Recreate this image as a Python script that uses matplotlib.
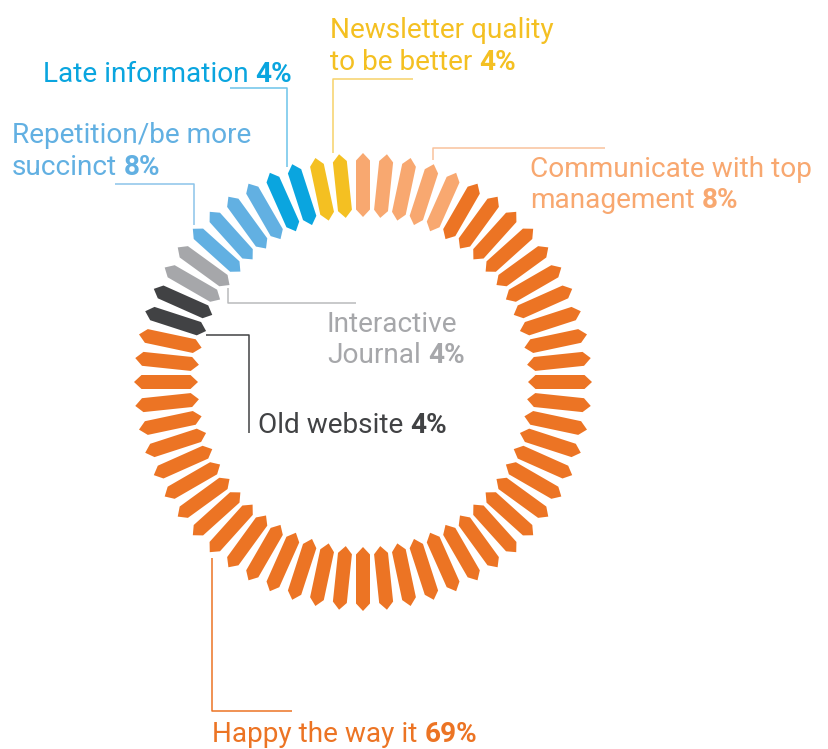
import numpy as np
import matplotlib
matplotlib.use('Agg')
import matplotlib.pyplot as plt
from matplotlib.patches import Polygon

plt.rcParams['font.family'] = ['Roboto', 'DejaVu Sans']

categories = ['Communicate with top management', 'Newsletter quality to be better',
              'Late information', 'Repetition/be more succinct', 'Interactive Journal',
              'Old website', 'Happy the way it']
percents = ['8%', '4%', '4%', '8%', '4%', '4%', '69%']
segments = [5, 2, 2, 4, 2, 2, 43]
colors = ['#F8A870', '#F4C022', '#0AA5DF', '#62B0E2', '#A6A7AA', '#414244', '#EC7424']

n_total = sum(segments)
start_deg = 66
step = 360 / n_total

fig = plt.figure(figsize=(8.29, 7.49), dpi=100)
ax = fig.add_axes([0, 0, 1, 1])
ax.set_xlim(0, 829)
ax.set_ylim(749, 0)
ax.set_aspect('equal')
ax.axis('off')

cx, cy = 363, 382
r_in, r_out = 165, 229
half_w, tip = 7, 7.5

k = 0
for cnt, col in zip(segments, colors):
    for _ in range(cnt):
        th = np.radians(start_deg + k * step)
        u = np.array([np.cos(th), -np.sin(th)])
        v = np.array([np.sin(th), np.cos(th)])
        c = np.array([cx, cy])
        pts = [c + r_in * u,
               c + (r_in + tip) * u + half_w * v,
               c + (r_out - tip) * u + half_w * v,
               c + r_out * u,
               c + (r_out - tip) * u - half_w * v,
               c + (r_in + tip) * u - half_w * v]
        ax.add_patch(Polygon(pts, closed=True, facecolor=col, edgecolor='none'))
        k += 1

fs = 20.2
renderer = fig.canvas.get_renderer()


def label(x, y, lines, bold, color):
    # all lines normal weight, bold percentage appended to last line
    for i, ln in enumerate(lines):
        t = ax.text(x, y[i], ln, fontsize=fs, color=color, va='baseline', ha='left')
    bb = t.get_window_extent(renderer=renderer)
    x_end = ax.transData.inverted().transform((bb.x1, bb.y0))[0]
    ax.text(x_end + 7, y[-1], bold, fontsize=fs, color=color, va='baseline',
            ha='left', fontweight='bold')


def leader(xs, ys, color):
    ax.plot(xs, ys, color=color, lw=1.1, solid_capstyle='butt')


# labels
label(43, [82], ['Late information'], percents[2], colors[2])
leader([230, 287, 287], [88, 88, 167], '#6CC3EA')

label(12, [143, 175], ['Repetition/be more', 'succinct'], percents[3], colors[3])
leader([115, 194, 194], [184, 184, 225], '#8CC4EA')

label(330, [38, 70], ['Newsletter quality', 'to be better'], percents[1], colors[1])
leader([413, 333, 333], [79, 79, 153], '#F7D26A')

label(530, [177, 208], ['Communicate with top', 'management'], percents[0], colors[0])
leader([605, 433, 433], [148, 148, 160], '#F9C29C')

label(327, [332, 363], ['Interactive', 'Journal'], percents[4], colors[4])
leader([228, 228, 356], [288, 303, 303], '#B9BABC')

label(258, [433], ['Old website'], percents[5], colors[5])
leader([206, 249, 249], [335, 335, 433], '#414244')

label(212, [742], ['Happy the way it'], percents[6], colors[6])
leader([212, 212, 292], [558, 711, 711], '#EC7424')

fig.savefig('out.png', dpi=100)
